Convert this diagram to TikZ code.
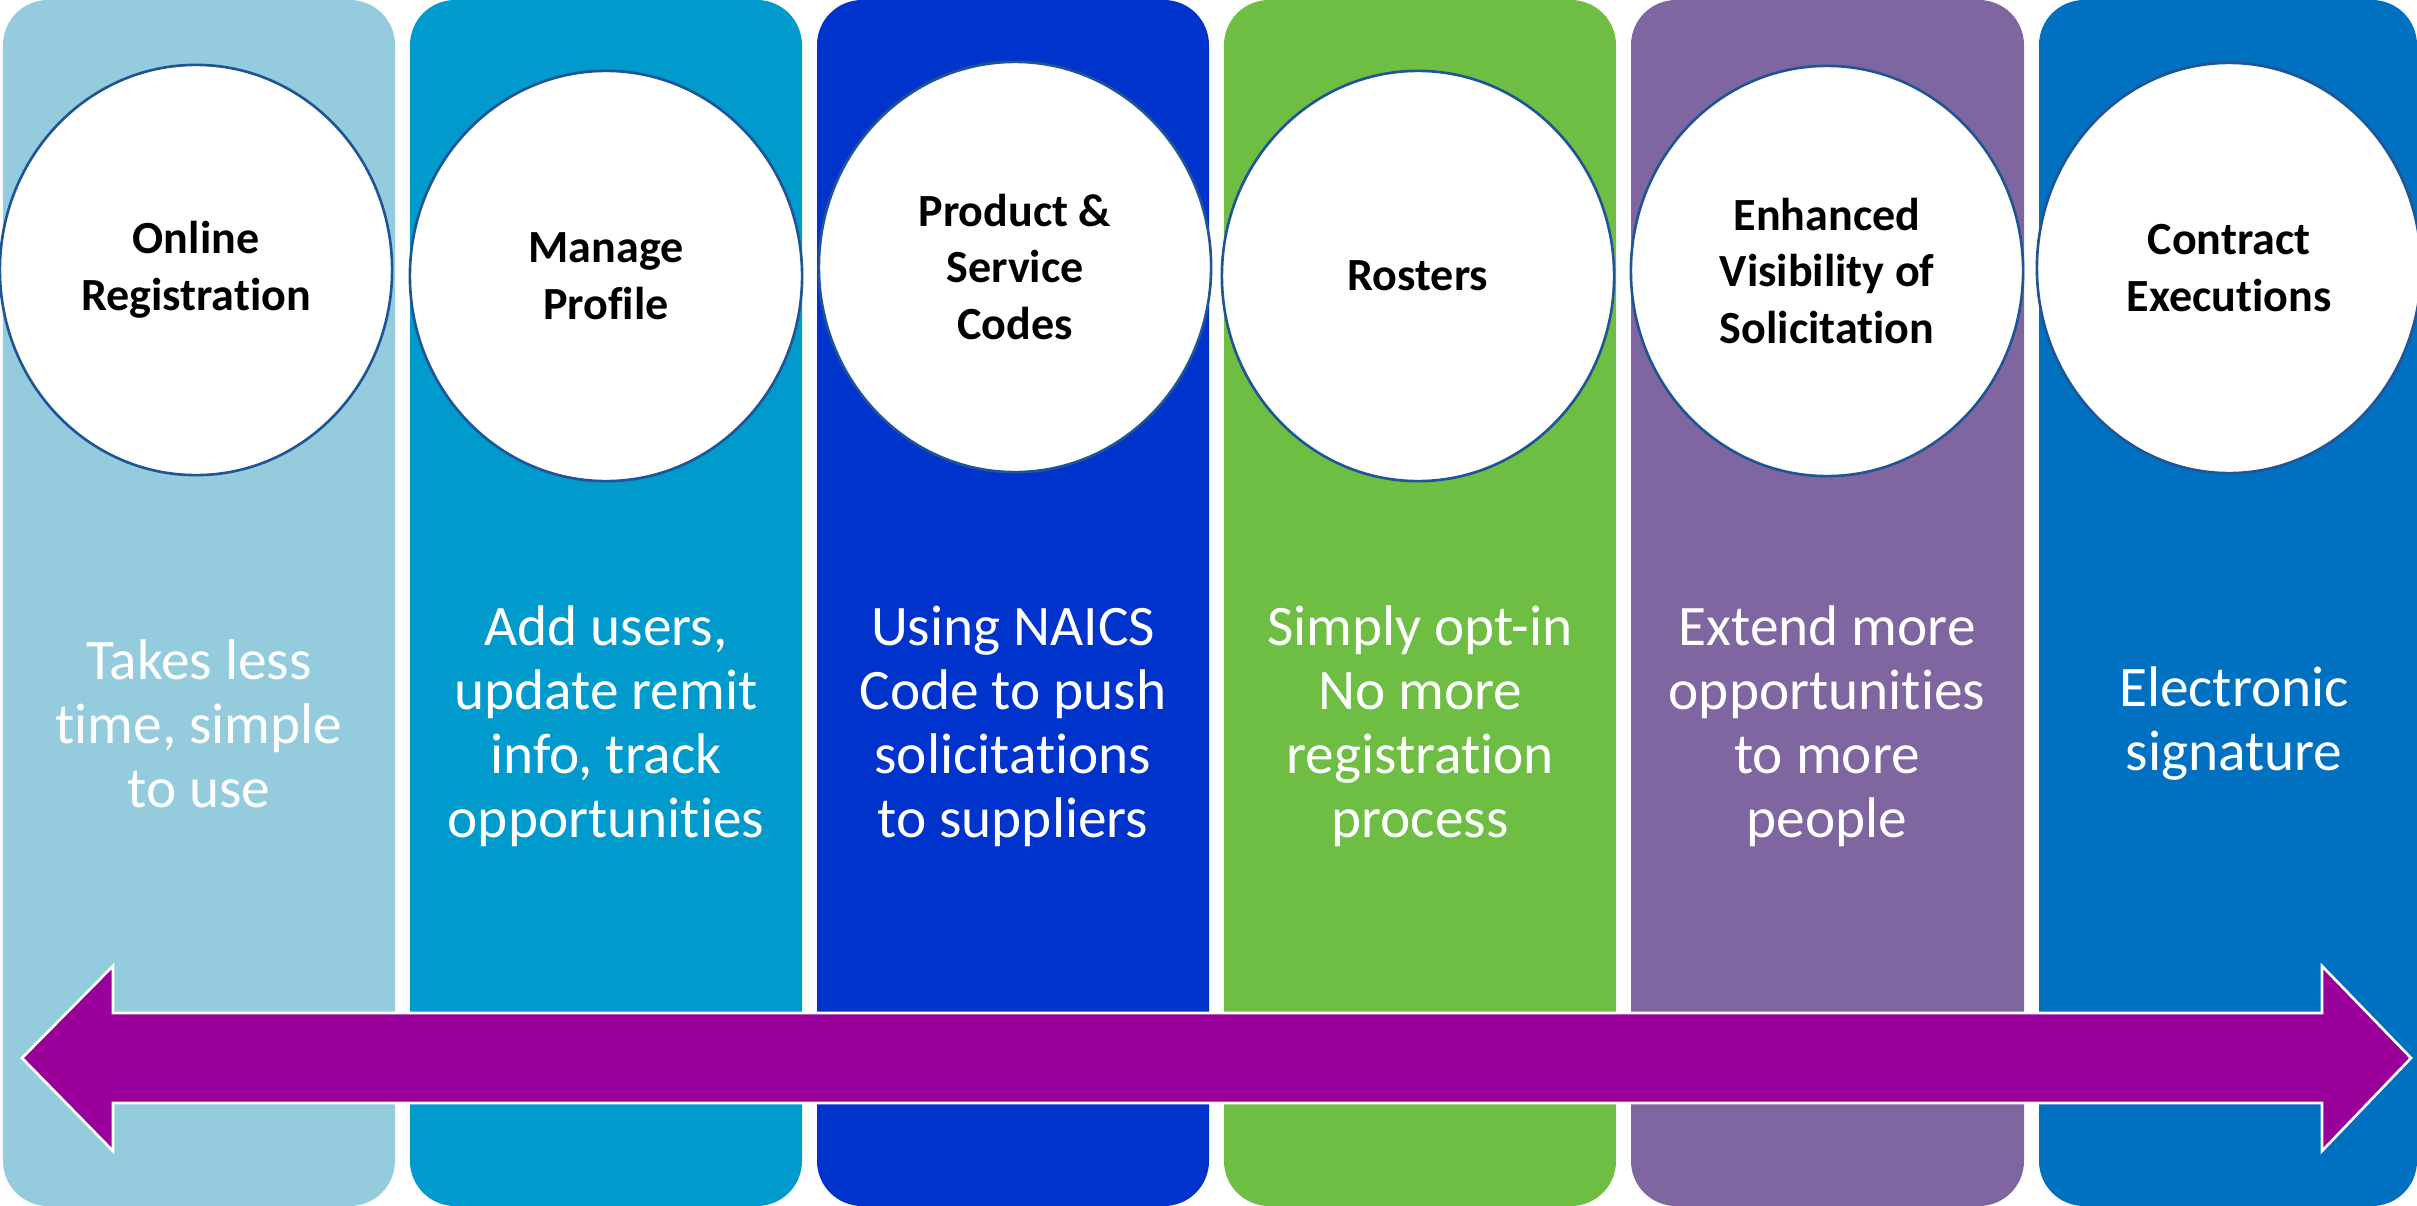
\documentclass[tikz,border=0pt]{standalone}
\usepackage{fontspec}
\setmainfont{Carlito}[Ligatures=NoCommon]
\usepackage{xcolor}
\usetikzlibrary{shapes.geometric}

\definecolor{bandA}{RGB}{148,204,221}
\definecolor{bandB}{RGB}{0,155,204}
\definecolor{bandC}{RGB}{0,51,204}
\definecolor{bandD}{RGB}{111,190,68}
\definecolor{bandE}{RGB}{128,102,161}
\definecolor{bandF}{RGB}{0,112,192}
\definecolor{ringblue}{RGB}{31,85,150}
\definecolor{arrowpurple}{RGB}{153,0,153}

\begin{document}
\begin{tikzpicture}[
    x=0.01cm, y=-0.01cm,
    band/.style={rounded corners=0.45cm},
    topic/.style={ellipse, draw=ringblue, line width=0.75pt, fill=white,
        minimum width=3.92cm, minimum height=4.1cm, inner sep=0pt,
        align=center, font=\fontsize{13.1}{16.2}\selectfont\bfseries},
    detail/.style={align=center, text=white,
        font=\fontsize{16.3}{18.2}\selectfont},
    timeline/.style={fill=arrowpurple, draw=white, line width=0.75pt}
]
    \useasboundingbox (0,0) rectangle (2417,1206);

    % Coloured bands
    \fill[band, fill=bandA] (3,0) rectangle (395,1206);
    \fill[band, fill=bandB] (410,0) rectangle (802,1206);
    \fill[band, fill=bandC] (817,0) rectangle (1209,1206);
    \fill[band, fill=bandD] (1224,0) rectangle (1616,1206);
    \fill[band, fill=bandE] (1631,0) rectangle (2024,1206);
    \fill[band, fill=bandF] (2039,0) rectangle (2417,1206);

    % Topic circles
    \node[topic] (online) at (196,270) {Online\\Registration};
    \node[topic] (profile) at (606,276) {Manage\\Profile};
    \node[topic] (codes) at (1015,267) {Product \&\\Service\\Codes};
    \node[topic] (rosters) at (1418,276) {Rosters};
    \node[topic] (visibility) at (1827,271) {Enhanced\\Visibility of\\Solicitation};
    \node[topic, minimum width=3.84cm] (contract) at (2229,268) {Contract\\Executions};

    % Descriptions
    \node[detail] (onlinetext) at (199,724) {Takes less\\time, simple\\to use};
    \node[detail] (profiletext) at (606,726) {Add users,\\update remit\\info, track\\opportunities};
    \node[detail] (codestext) at (1013,726) {Using NAICS\\Code to push\\solicitations\\to suppliers};
    \node[detail] (rosterstext) at (1420,726) {Simply opt-in\\No more\\registration\\process};
    \node[detail] (visibilitytext) at (1827,726) {Extend more\\opportunities\\to more\\people};
    \node[detail] (contracttext) at (2234,724) {Electronic\\signature};

    % Two-way arrow
    \draw[timeline] (22,1058) -- (113,966) -- (113,1013) -- (2322,1013)
        -- (2322,966) -- (2411,1058) -- (2322,1151) -- (2322,1103)
        -- (113,1103) -- (113,1151) -- cycle;
\end{tikzpicture}
\end{document}
